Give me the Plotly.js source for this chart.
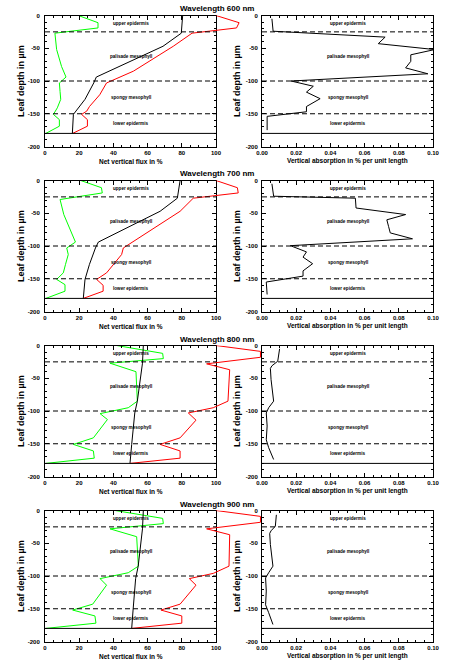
<!DOCTYPE html>
<html><head><meta charset="utf-8">
<script src="https://cdn.plot.ly/plotly-3.0.1.min.js"></script>
<style>html,body{margin:0;padding:0;background:#fff}#chart{width:450px;height:663px}</style>
</head><body><div id="chart"></div>
<script>
// ---------------- DATA ----------------
const wavelengths = [600, 700, 800, 900];
const layerNames = ['upper epidermis', 'palisade mesophyll', 'spongy mesophyll', 'lower epidermis'];
const layerBounds = [0, -25, -100, -150, -180];

// 600 nm
const green600Depth = [0, -11, -19, -27, -52, -78, -94, -103, -116, -128, -141, -151, -159, -169, -180];
const green600Flux  = [19.5, 31, 31, 5.8, 6.8, 9.7, 12.3, 8.4, 8.8, 9.2, 7.2, 4.9, 8.4, 8.4, 0.5];
const black600Depth = [0, -27, -47, -94, -103, -128, -151, -180];
const black600Flux  = [80.5, 79.7, 69, 30, 28.5, 23.4, 16.6, 16];
const red600Depth   = [0, -11, -19, -27, -47, -85, -103, -121, -139, -146, -151, -159, -169, -180];
const red600Flux    = [100, 113.5, 112, 86, 75, 51.7, 36, 32, 26, 24.4, 21.4, 24.8, 24.8, 16.2];
const abs600Depth   = [-5, -24, -33, -43, -52, -60, -70, -80, -89, -100, -108, -117, -127, -139, -147, -154, -175];
const abs600Value   = [0.0058, 0.0065, 0.072, 0.068, 0.101, 0.087, 0.087, 0.084, 0.097, 0.017, 0.030, 0.026, 0.034, 0.026, 0.026, 0.003, 0.003];

// 700 nm
const green700Depth = [0, -11, -19, -29, -52, -75, -94, -103, -113, -128, -141, -151, -159, -169, -180];
const green700Flux  = [20.9, 33, 33.5, 8.8, 11, 14.5, 17.8, 12.7, 13.6, 12, 10.7, 6.8, 11.7, 11.7, 0.5];
const black700Depth = [0, -27, -47, -94, -103, -128, -151, -180];
const black700Flux  = [79, 77.4, 67.3, 31.2, 29.5, 26, 23.4, 22.4];
const red700Depth   = [0, -11, -19, -27, -47, -85, -103, -113, -141, -151, -160, -169, -180];
const red700Flux    = [100, 112.5, 113, 86.7, 79, 56, 45.8, 44.8, 36, 30.2, 34, 34, 22.4];
const abs700Depth   = [-5, -24, -27, -42, -52, -60, -70, -80, -89, -99.5, -109, -117, -127, -138, -146, -155, -174];
const abs700Value   = [0.0058, 0.0068, 0.0546, 0.055, 0.084, 0.073, 0.074, 0.075, 0.088, 0.0166, 0.026, 0.024, 0.0296, 0.024, 0.024, 0.0025, 0.003];

// 800 nm
const green800Depth = [0, -12, -20, -27, -40, -85, -95, -104, -113, -141, -151, -161, -172, -180];
const green800Flux  = [41.9, 68.8, 69.2, 38, 53.2, 54, 48.7, 32.2, 36.5, 28.3, 16.6, 28.3, 28.8, 0.5];
const black800Depth = [0, -27, -85, -103, -151, -180];
const black800Flux  = [57.5, 57, 54, 52.5, 50.7, 49.7];
const red800Depth   = [0, -9, -18, -28, -37, -85, -95, -103, -114, -141, -151, -161, -172, -180];
const red800Flux    = [100, 126, 126, 94.5, 108, 107, 98.4, 83.8, 88.3, 79, 67.3, 79, 79, 49.7];
const abs800Depth   = [-5, -24, -31, -35, -52, -73, -85, -95, -103, -123, -144, -156, -174];
const abs800Value   = [0.0103, 0.0092, 0.0058, 0.0049, 0.0053, 0.006, 0.0068, 0.0039, 0.0025, 0.003, 0.0025, 0.0039, 0.0068];

// 900 nm
const green900Depth = [0, -12, -20, -28, -40, -85, -95, -104, -114, -143, -152, -161, -172, -180];
const green900Flux  = [41, 68.8, 69.2, 38, 53.6, 54.6, 48.7, 32.2, 36, 27.9, 16.2, 29.2, 29.8, 0.5];
const black900Depth = [0, -28, -85, -104, -152, -180];
const black900Flux  = [57.5, 57, 54.5, 53, 51.5, 50.7];
const red900Depth   = [0, -9, -18, -28, -37, -85, -96, -104, -114, -143, -152, -161, -172, -180];
const red900Flux    = [100, 126, 126, 94.5, 108, 107.6, 98.4, 84.4, 88.3, 79, 67.8, 80, 80, 50.7];
const abs900Depth   = [-6.6, -24, -31, -35, -52, -73, -85, -95, -103, -123, -144, -156, -174];
const abs900Value   = [0.0084, 0.0078, 0.0053, 0.0045, 0.0049, 0.0058, 0.0064, 0.0039, 0.0021, 0.0025, 0.0021, 0.0039, 0.0064];

const fluxTicks = [0, 20, 40, 60, 80, 100];
const absTicks = [0, 0.02, 0.04, 0.06, 0.08, 0.10];
const depthTicks = [0, -50, -100, -150, -200];

// ---------------- BUILD ----------------
const panels = [
  {g:[green600Depth, green600Flux], b:[black600Depth, black600Flux], r:[red600Depth, red600Flux], a:[abs600Depth, abs600Value]},
  {g:[green700Depth, green700Flux], b:[black700Depth, black700Flux], r:[red700Depth, red700Flux], a:[abs700Depth, abs700Value]},
  {g:[green800Depth, green800Flux], b:[black800Depth, black800Flux], r:[red800Depth, red800Flux], a:[abs800Depth, abs800Value]},
  {g:[green900Depth, green900Flux], b:[black900Depth, black900Flux], r:[red900Depth, red900Flux], a:[abs900Depth, abs900Value]}
];

const W = 450, H = 663;
const leftPx = [45, 216], rightPx = [262, 433];
const rowTop = [15.5, 180.5, 345.5, 510.5], rowH = 131;
const FONT = 'Liberation Sans, Arial, sans-serif';

const data = [];
const layout = {
  width: W, height: H,
  margin: {l: 0, r: 0, t: 0, b: 0, pad: 0},
  paper_bgcolor: '#fff', plot_bgcolor: 'rgba(0,0,0,0)',
  showlegend: false,
  font: {family: FONT, color: '#000'},
  annotations: [], shapes: []
};

function axisBase(extra) {
  return Object.assign({
    showgrid: false, zeroline: false, showline: true, linecolor: '#000', linewidth: 1,
    mirror: 'ticks', ticks: 'inside', ticklen: 4, tickwidth: 1, tickcolor: '#000',
    tickfont: {family: FONT, size: 6, weight: 'bold', color: '#000'},
    fixedrange: true
  }, extra);
}

const wideDom = [leftPx[0] / W, rightPx[0] / W];
const wideRange = 100 * (rightPx[0] - leftPx[0]) / (leftPx[1] - leftPx[0]);
layout.xaxis9 = {visible: false, domain: wideDom, range: [0, wideRange], anchor: 'y', fixedrange: true};

panels.forEach((p, i) => {
  const li = 2 * i + 1, ri = 2 * i + 2;
  const lx = li === 1 ? 'x' : 'x' + li, ly = li === 1 ? 'y' : 'y' + li;
  const rx = 'x' + ri, ry = 'y' + ri;
  const yDom = [1 - (rowTop[i] + rowH) / H, 1 - rowTop[i] / H];

  layout[li === 1 ? 'xaxis' : 'xaxis' + li] = axisBase({
    domain: [leftPx[0] / W, leftPx[1] / W], anchor: ly, range: [0, 100],
    tickvals: fluxTicks, ticktext: fluxTicks.map(String),
    minor: {dtick: 5, ticklen: 2, ticks: 'inside', tickcolor: '#000', showgrid: false}
  });
  layout[li === 1 ? 'yaxis' : 'yaxis' + li] = axisBase({
    domain: yDom, anchor: lx, range: [-200, 0],
    tickvals: depthTicks, ticktext: depthTicks.map(String), ticklabelstandoff: 3,
    minor: {dtick: 10, ticklen: 2, ticks: 'inside', tickcolor: '#000', showgrid: false}
  });
  layout['xaxis' + ri] = axisBase({
    domain: [rightPx[0] / W, rightPx[1] / W], anchor: ry, range: [0, 0.1],
    tickvals: absTicks, ticktext: absTicks.map(v => v.toFixed(2)),
    minor: {dtick: 0.005, ticklen: 2, ticks: 'inside', tickcolor: '#000', showgrid: false}
  });
  layout['yaxis' + ri] = axisBase({
    domain: yDom, anchor: rx, range: [-200, 0],
    tickvals: depthTicks, ticktext: depthTicks.map(String), ticklabelstandoff: 2,
    minor: {dtick: 10, ticklen: 2, ticks: 'inside', tickcolor: '#000', showgrid: false}
  });

  data.push({type: 'scatter', mode: 'lines', x: p.g[1], y: p.g[0], xaxis: lx, yaxis: ly,
    line: {color: '#00ff00', width: 1}, hoverinfo: 'skip'});
  data.push({type: 'scatter', mode: 'lines', x: p.b[1], y: p.b[0], xaxis: lx, yaxis: ly,
    line: {color: '#000', width: 1}, hoverinfo: 'skip'});
  data.push({type: 'scatter', mode: 'lines', x: p.r[1], y: p.r[0], xaxis: 'x9', yaxis: ly,
    line: {color: '#ff0000', width: 1}, hoverinfo: 'skip'});
  data.push({type: 'scatter', mode: 'lines', x: p.a[1], y: p.a[0], xaxis: rx, yaxis: ry,
    line: {color: '#000', width: 1}, hoverinfo: 'skip'});

  // layer boundaries and names
  [[lx, ly], [rx, ry]].forEach(([xa, ya]) => {
    layerBounds.slice(1).forEach((b, k) => {
      const last = k === layerBounds.length - 2;
      layout.shapes.push({type: 'line', xref: xa + ' domain', yref: ya, x0: 0, x1: 1, y0: b, y1: b,
        line: {color: '#000', width: 1, dash: last ? 'solid' : '5px,3px'}});
    });
    layerNames.forEach((n, k) => {
      layout.annotations.push({xref: xa + ' domain', yref: ya, x: 0.5, y: (layerBounds[k] + layerBounds[k + 1]) / 2,
        text: n, showarrow: false, font: {family: FONT, size: 4.6, weight: 'bold', color: '#000'},
        xanchor: 'center', yanchor: 'middle'});
    });
  });

  // titles
  layout.annotations.push({xref: 'paper', yref: 'paper', x: 216.5 / W, y: 1 - (rowTop[i] - 6.5) / H,
    text: 'Wavelength ' + wavelengths[i] + ' nm', showarrow: false,
    font: {family: FONT, size: 8, weight: 'bold', color: '#000'}, xanchor: 'center', yanchor: 'middle'});
  layout.annotations.push({xref: 'paper', yref: 'paper', x: (leftPx[0] + leftPx[1]) / 2 / W, y: 1 - (rowTop[i] + rowH + 14.5) / H,
    text: 'Net vertical flux in %', showarrow: false,
    font: {family: FONT, size: 6.5, weight: 'bold', color: '#000'}, xanchor: 'center', yanchor: 'middle'});
  layout.annotations.push({xref: 'paper', yref: 'paper', x: (rightPx[0] + rightPx[1]) / 2 / W, y: 1 - (rowTop[i] + rowH + 14.5) / H,
    text: 'Vertical absorption in % per unit length', showarrow: false,
    font: {family: FONT, size: 6.5, weight: 'bold', color: '#000'}, xanchor: 'center', yanchor: 'middle'});
  [21, 237].forEach(px => {
    layout.annotations.push({xref: 'paper', yref: 'paper', x: px / W, y: 1 - (rowTop[i] + rowH / 2) / H,
      text: 'Leaf depth in µm', showarrow: false, textangle: -90,
      font: {family: FONT, size: 9, weight: 'bold', color: '#000'}, xanchor: 'center', yanchor: 'middle'});
  });
});

Plotly.newPlot('chart', data, layout, {staticPlot: true, displayModeBar: false});
</script>
</body></html>
